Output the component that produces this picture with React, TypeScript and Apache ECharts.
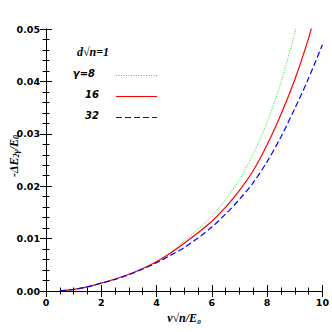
import React, { useEffect, useRef } from "react";
import * as echarts from "echarts";

const vGreen = [0.5, 1, 1.5, 2, 2.5, 3, 3.5, 4, 4.5, 5, 5.5, 6, 6.5, 7, 7.5, 8, 8.5, 9, 9.1];
const eGreen = [0.00002, 0.0003, 0.0008, 0.0015, 0.0023, 0.0032, 0.0043, 0.0057, 0.0074, 0.0095, 0.0118, 0.0143, 0.0175, 0.0213, 0.0262, 0.0322, 0.0398, 0.0492, 0.0515];
const vRed = [0.5, 1, 1.5, 2, 2.5, 3, 3.5, 4, 4.5, 5, 5.5, 6, 6.5, 7, 7.5, 8, 8.5, 9, 9.5, 9.65];
const eRed = [0.00002, 0.0003, 0.0008, 0.0015, 0.0023, 0.0032, 0.0043, 0.0056, 0.0072, 0.0091, 0.0111, 0.0133, 0.0160, 0.0192, 0.0230, 0.0279, 0.0337, 0.0403, 0.0482, 0.0512];
const vBlue = [0.5, 1, 1.5, 2, 2.5, 3, 3.5, 4, 4.5, 5, 5.5, 6, 6.5, 7, 7.5, 8, 8.5, 9, 9.5, 10];
const eBlue = [0.00002, 0.0003, 0.0008, 0.0015, 0.0022, 0.0031, 0.0042, 0.0054, 0.0068, 0.0083, 0.0101, 0.0122, 0.0147, 0.0175, 0.0207, 0.0247, 0.0294, 0.0348, 0.0406, 0.0470];
const xTicks = [0, 2, 4, 6, 8, 10];
const yTicks = [0, 0.01, 0.02, 0.03, 0.04, 0.05];
const legendLabels = ["γ=8", "16", "32"];

const pairs = (xs: number[], ys: number[]) => xs.map((x, i) => [x, ys[i]]);

export default function App() {
  const ref = useRef<HTMLDivElement>(null);
  useEffect(() => {
    if (!ref.current) return;
    const chart = echarts.init(ref.current, undefined, { renderer: "svg" });
    const tickFont = { fontFamily: "DejaVu Sans", fontWeight: "bold" as const, fontSize: 9.5, color: "#000" };
    const baseX = {
      type: "value" as const,
      min: xTicks[0],
      max: xTicks[xTicks.length - 1],
      interval: 2,
      axisLine: { show: true, lineStyle: { color: "#000", width: 1 } },
      axisTick: { show: true, inside: true, length: 6, lineStyle: { color: "#000" } },
      minorTick: { show: true, splitNumber: 4, length: 3.5, lineStyle: { color: "#000" } },
      splitLine: { show: false },
    };
    const baseY = {
      type: "value" as const,
      min: yTicks[0],
      max: yTicks[yTicks.length - 1],
      interval: 0.01,
      axisLine: { show: true, lineStyle: { color: "#000", width: 1 } },
      axisTick: { show: true, inside: true, length: 6, lineStyle: { color: "#000" } },
      minorTick: { show: true, splitNumber: 5, length: 3.5, lineStyle: { color: "#000" } },
      splitLine: { show: false },
    };
    const lx1 = 116, lx2 = 157;
    const legendText = { fontFamily: "DejaVu Sans", fontStyle: "italic", fontWeight: "bold", fontSize: 10, fill: "#000", align: "right", verticalAlign: "middle" };
    chart.setOption({
      animation: false,
      grid: { left: 46, right: 8, top: 29, bottom: 41, containLabel: false },
      xAxis: [
        {
          ...baseX,
          position: "bottom",
          axisLabel: { ...tickFont, margin: 6, formatter: (v: number) => String(v) },
          name: "v√n/E₀",
          nameLocation: "middle",
          nameGap: 20,
          nameTextStyle: { fontFamily: "Liberation Serif", fontStyle: "italic", fontWeight: "bold", fontSize: 12, color: "#000" },
        },
        { ...baseX, position: "top", axisLabel: { show: false } },
      ],
      yAxis: [
        {
          ...baseY,
          position: "left",
          axisLabel: { ...tickFont, margin: 6, formatter: (v: number) => v.toFixed(2) },
        },
        { ...baseY, position: "right", axisLabel: { show: false } },
      ],
      series: [
        {
          type: "line", data: pairs(vGreen, eGreen), showSymbol: false, smooth: 0.3, clip: true,
          lineStyle: { color: "#22dd22", width: 1, type: [1, 1.5] },
        },
        {
          type: "line", data: pairs(vRed, eRed), showSymbol: false, smooth: 0.3, clip: true,
          lineStyle: { color: "#ff0000", width: 1.2, type: "solid" },
        },
        {
          type: "line", data: pairs(vBlue, eBlue), showSymbol: false, smooth: 0.3, clip: true,
          lineStyle: { color: "#0000ff", width: 1.2, type: [6, 3] },
        },
      ],
      graphic: [
        {
          type: "text", x: 14, y: 156, rotation: Math.PI / 2,
          style: {
            text: "{m|-ΔE}{s|2γ}{m|/E}{s|0}",
            align: "center", verticalAlign: "middle",
            rich: {
              m: { fontFamily: "Liberation Serif", fontStyle: "italic", fontWeight: "bold", fontSize: 12, fill: "#000" },
              s: { fontFamily: "Liberation Serif", fontStyle: "italic", fontWeight: "bold", fontSize: 8, fill: "#000", padding: [5, 0, 0, 0] },
            },
          },
        },
        {
          type: "text", x: 77, y: 52,
          style: { text: "d√n=1", fontFamily: "Liberation Serif", fontStyle: "italic", fontWeight: "bold", fontSize: 12, fill: "#000", verticalAlign: "middle" },
        },
        { type: "text", x: 95, y: 73, style: { ...legendText, text: legendLabels[0] } },
        { type: "text", x: 99, y: 94, style: { ...legendText, text: legendLabels[1] } },
        { type: "text", x: 99, y: 115, style: { ...legendText, text: legendLabels[2] } },
        { type: "line", shape: { x1: lx1, y1: 75.5, x2: lx2, y2: 75.5 }, style: { stroke: "#22dd22", lineWidth: 1, lineDash: [1, 1.5] } },
        { type: "line", shape: { x1: lx1, y1: 96.5, x2: lx2, y2: 96.5 }, style: { stroke: "#ff0000", lineWidth: 1.2 } },
        { type: "line", shape: { x1: lx1, y1: 117.5, x2: lx2, y2: 117.5 }, style: { stroke: "#0000ff", lineWidth: 1.2, lineDash: [6, 3] } },
      ],
    });
    return () => chart.dispose();
  }, []);
  return <div ref={ref} style={{ position: "fixed", left: 0, top: 0, width: 332, height: 332, background: "#fff" }} />;
}
